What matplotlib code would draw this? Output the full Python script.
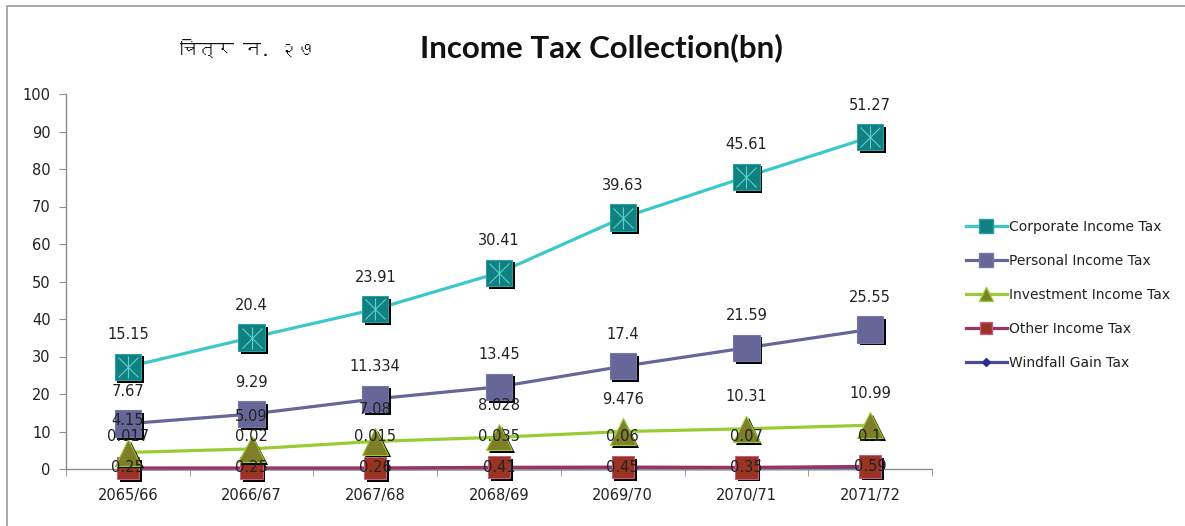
import matplotlib
matplotlib.use("Agg")
import numpy as np
import matplotlib.pyplot as plt
from matplotlib import font_manager
from matplotlib.ft2font import FT2Font
from matplotlib.lines import Line2D
import matplotlib.patheffects as pe

# values in billions, stacked in the chart (bottom series first)
years = ["2065/66", "2066/67", "2067/68", "2068/69", "2069/70", "2070/71", "2071/72"]
windfall = [0.017, 0.02, 0.015, 0.035, 0.06, 0.07, 0.1]
other = [0.25, 0.25, 0.26, 0.41, 0.45, 0.35, 0.59]
investment = [4.15, 5.09, 7.08, 8.028, 9.476, 10.31, 10.99]
personal = [7.67, 9.29, 11.334, 13.45, 17.4, 21.59, 25.55]
corporate = [15.15, 20.4, 23.91, 30.41, 39.63, 45.61, 51.27]

y_ticks = [0, 10, 20, 30, 40, 50, 60, 70, 80, 90, 100]


def find_devanagari():
    for f in font_manager.fontManager.ttflist:
        try:
            if 0x091A in FT2Font(f.fname).get_charmap():
                return f.name
        except Exception:
            pass
    return "DejaVu Sans"


W, H = 1185, 526
fig = plt.figure(figsize=(W / 100, H / 100), dpi=100)
ax = fig.add_axes([66 / W, 1 - 469 / H, 866 / W, 375 / H])

# series: name, values, line colour, marker, size, face, edge, label offset (pt)
series = [
    ("Windfall Gain Tax", windfall, "#4a4a9c", "D", 8, "#2e2e8f", "#2e2e8f", 23),
    ("Other Income Tax", other, "#993366", "s", 16, "#9a3322", "#c0608a", 0),
    ("Investment Income Tax", investment, "#99cc33", "^", 19, "#7f7f2a", "#99cc33", 23),
    ("Personal Income Tax", personal, "#666699", "s", 19, "#666699", "#7878a8", 23),
    ("Corporate Income Tax", corporate, "#3cc8c8", "s", 19, "#108080", "#2aa0a0", 23),
]

x = np.arange(len(years))
base = np.zeros(len(years))
shadow = [pe.SimplePatchShadow(offset=(2, -2), shadow_rgbFace="black", alpha=1.0), pe.Normal()]
handles = {}
z = 2
for name, vals, lc, mk, ms, fc, ec, off in series:
    top = base + np.array(vals)
    ax.plot(x, top, color=lc, lw=2.3, zorder=z, clip_on=False)
    ax.plot(x, top, ls="none", marker=mk, ms=ms, mfc=fc, mec=ec, mew=0.8,
            zorder=z + 0.5, clip_on=False, path_effects=shadow)
    if name == "Corporate Income Tax":
        ax.plot(x, top, ls="none", marker="x", ms=ms * 0.75, mec="#5fd0d0", mew=0.8,
                zorder=z + 0.6, clip_on=False)
        ax.plot(x, top, ls="none", marker="|", ms=ms * 0.8, mec="#5fd0d0", mew=0.8,
                zorder=z + 0.6, clip_on=False)
    for xi, yi, v in zip(x, top, vals):
        ax.annotate(f"{v:g}", (xi, yi), xytext=(0, off), textcoords="offset points",
                    ha="center", va="center", fontsize=10.5, color="#222222",
                    zorder=20, annotation_clip=False)
    handles[name] = Line2D([], [], color=lc, lw=2.3, marker=mk, ms=ms * 0.55,
                           mfc=fc, mec=ec)
    base = top
    z += 1

ax.set_xlim(-0.5, len(years) - 0.5)
ax.set_ylim(0, 100)
ax.set_yticks(y_ticks)
ax.set_xticks(x)
ax.set_xticklabels(years)
ax.set_xticks(np.arange(len(years) + 1) - 0.5, minor=True)
ax.tick_params(axis="x", which="major", length=0, pad=14, labelsize=10.5, labelcolor="#222222")
ax.tick_params(axis="x", which="minor", length=5, color="#8c8c8c", direction="out")
ax.tick_params(axis="y", length=5, color="#8c8c8c", labelsize=10.5, labelcolor="#222222", pad=6)
for s in ["top", "right"]:
    ax.spines[s].set_visible(False)
for s in ["left", "bottom"]:
    ax.spines[s].set_color("#8c8c8c")
    ax.spines[s].set_linewidth(1)

order = ["Corporate Income Tax", "Personal Income Tax", "Investment Income Tax",
         "Other Income Tax", "Windfall Gain Tax"]
fig.legend([handles[n] for n in order], order, loc="center left",
           bbox_to_anchor=(953 / W, 1 - 295 / H), frameon=False, fontsize=10,
           labelspacing=1.45, handlelength=3.0, handletextpad=0.15,
           labelcolor="#222222")

fig.text(601 / W, 1 - 48 / H, "Income Tax Collection(bn)", ha="center", va="center",
         fontsize=22.5, fontweight="bold", family="Lato", color="#111111")
fig.text(248 / W, 1 - 48 / H, "चित्र न. २७", ha="center", va="center",
         fontsize=13, fontweight="bold", family=[find_devanagari(), "DejaVu Sans"],
         color="#111111")

# chart border (left and top edges visible)
fig.add_artist(Line2D([6.5 / W, 6.5 / W, 1], [0, 1 - 6 / H, 1 - 6 / H],
                      transform=fig.transFigure, color="#9a9a9a", lw=1.2))

fig.savefig("out.png", dpi=100)
